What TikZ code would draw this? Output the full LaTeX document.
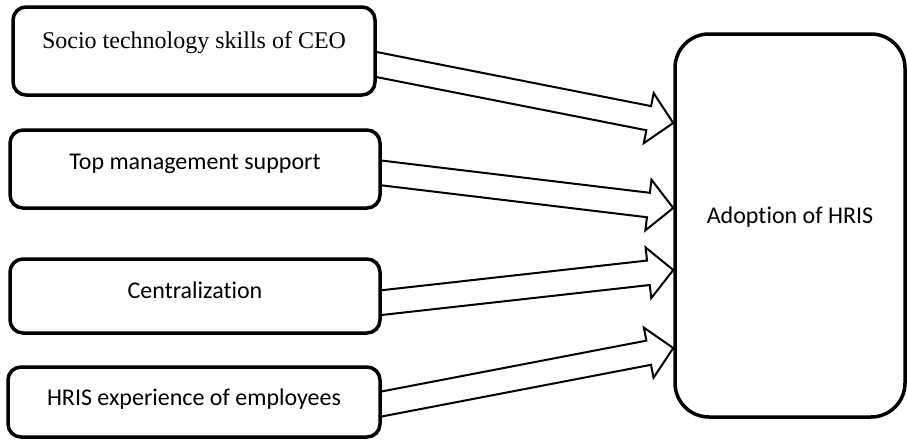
\documentclass[tikz,border=0pt]{standalone}
\usepackage{fontspec}
\setmainfont{Carlito}[Ligatures={NoCommon}]
\newfontfamily\timesfont{Liberation Serif}
\usetikzlibrary{calc,backgrounds}
\tikzset{
  box/.style={draw, line width=3.5pt, rounded corners=13pt, fill=white, inner sep=0pt,
    font=\fontsize{24}{28}\selectfont, text height=0pt, text depth=0pt},
  bigbox/.style={box, rounded corners=34pt},
  arr/.style={draw, line width=2pt, line join=miter},
}
\newcommand\blockarr[2]{%
  \coordinate (s) at (#1);
  \coordinate (t) at (#2);
  \coordinate (b) at ($(t)!25pt!(s)$);
  \draw[arr] ($(s)!12.3pt!90:(t)$) -- ($(b)!12.3pt!-90:(s)$) -- ($(b)!25.5pt!-90:(s)$)
    -- (t) -- ($(b)!25.5pt!90:(s)$) -- ($(b)!12.3pt!90:(s)$) -- ($(s)!12.3pt!-90:(t)$);}
\begin{document}
\begin{tikzpicture}[x=1pt,y=-1pt]
\useasboundingbox (0,0) rectangle (907,439);
\node[box, minimum width=362pt, minimum height=88pt, text depth=6pt] (b1) at (194,51) {\timesfont Socio technology skills of CEO};
\node[box, minimum width=370pt, minimum height=78pt] (b2) at (195,169) {Top management support};
\node[box, minimum width=370pt, minimum height=74pt, text height=4pt] (b3) at (195,296) {Centralization};
\node[box, minimum width=372pt, minimum height=70pt, text height=6pt] (b4) at (194,402) {HRIS experience of employees};
\node[bigbox, minimum width=230pt, minimum height=383pt, text depth=5pt] (b5) at (790,225.5) {Adoption of HRIS};
\begin{scope}[on background layer]
\blockarr{$(b1.east)+(-8,12)$}{$(b5.west)+(0,-102.5)$}
\blockarr{$(b2.east)+(-8,3)$}{$(b5.west)+(0,-17.5)$}
\blockarr{$(b3.east)+(-8,7.5)$}{$(b5.west)+(0,44.5)$}
\blockarr{$(b4.east)+(-8,3.5)$}{$(b5.west)+(0,122.5)$}
\end{scope}
\end{tikzpicture}
\end{document}
